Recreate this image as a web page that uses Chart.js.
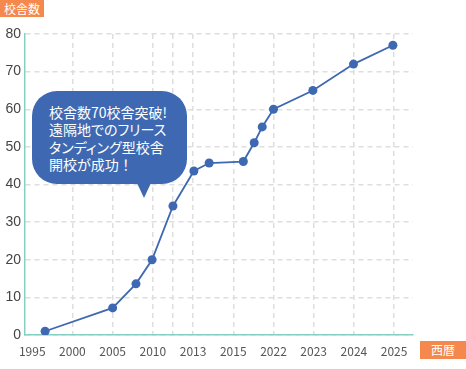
<!DOCTYPE html>
<html lang="ja">
<head>
<meta charset="utf-8">
<script src="https://cdn.jsdelivr.net/npm/chart.js@4/dist/chart.umd.min.js"></script>
<style>
    html, body { margin: 0; padding: 0; background: #fff; }
    .wrap { position: relative; width: 466px; height: 369px; overflow: hidden; font-family: "Noto Sans CJK JP", "Noto Sans", sans-serif; }
    canvas { position: absolute; left: 0; top: 0; }
    .badge { position: absolute; background: #f5884c; color: #fff; font-size: 12px; line-height: 17px; text-align: center; }
    .badge.y { left: 0; top: 0; width: 44px; height: 17px; }
    .badge.x { left: 420px; top: 341px; width: 46px; height: 18px; line-height: 18px; }
    .bubble {
        position: absolute; left: 32px; top: 91px; width: 155px; height: 93px;
        box-sizing: border-box; padding: 13px 0 0 17px;
        background: #3e69b2; border-radius: 25px;
        color: #fff; font-size: 14px; line-height: 17.4px; white-space: nowrap;
        font-feature-settings: "palt";
    }
    .bubble .fw { font-feature-settings: normal; }
    .bubble::after {
        content: ''; position: absolute; left: 105px; top: 92px;
        border-left: 7.5px solid transparent; border-right: 7.5px solid transparent;
        border-top: 15px solid #3e69b2;
    }
</style>
</head>
<body>
<div class="wrap">
    <canvas id="schoolChart" width="466" height="369"></canvas>
    <div class="badge y">校舎数</div>
    <div class="badge x">西暦</div>
    <div class="bubble">校舎数70校舎突破!<br>遠隔地でのフリース<br>タンディング型校舎<br>開校が成功<span class="fw">！</span></div>
</div>
<script>
// x tick labels (one per grid step) and the data, x given in tick-step units
const yearLabels = ['1995', '2000', '2005', '2010', '2013', '2015', '2022', '2023', '2024', '2025'];
const pointX = [0.32, 2.0, 2.58, 2.98, 3.5, 4.02, 4.4, 5.25, 5.52, 5.72, 6.0, 6.98, 7.99, 8.97];
const schoolCount = [1, 7.2, 13.6, 20, 34.3, 43.6, 45.7, 46.1, 51.1, 55.3, 60, 65, 72, 77];
const extraGridAt = [3.5];

document.addEventListener('DOMContentLoaded', () => {
    const lineColor = '#3e68b1';
    const axisColor = '#84d1c4';
    const gridColor = '#dedede';

    const ctx = document.getElementById('schoolChart').getContext('2d');
    new Chart(ctx, {
        type: 'line',
        data: {
            datasets: [{
                data: pointX.map((x, i) => ({ x, y: schoolCount[i] })),
                borderColor: lineColor,
                backgroundColor: lineColor,
                borderWidth: 1.8,
                pointRadius: 4.5,
                pointBorderWidth: 0,
                tension: 0
            }]
        },
        options: {
            responsive: false,
            animation: false,
            layout: { padding: { top: 34, right: 53, left: 0, bottom: 0 } },
            plugins: { legend: { display: false }, tooltip: { enabled: false } },
            scales: {
                x: {
                    type: 'linear',
                    min: -0.18,
                    max: 9.47,
                    afterBuildTicks: (axis) => {
                        const vals = yearLabels.map((_, i) => i).concat(extraGridAt).sort((a, b) => a - b);
                        axis.ticks = vals.map(v => ({ value: v }));
                    },
                    afterFit: (axis) => { axis.height = 34; },
                    ticks: {
                        autoSkip: false,
                        maxRotation: 0,
                        padding: 9,
                        color: '#555',
                        font: { family: '"Noto Sans CJK JP", sans-serif', size: 12 },
                        callback: (v) => Number.isInteger(v) ? yearLabels[v] : ''
                    },
                    grid: {
                        drawTicks: false,
                        lineWidth: 1.5,
                        color: (c) => (c.tick && c.tick.value === 0) ? 'rgba(0,0,0,0)' : gridColor
                    },
                    border: { color: axisColor, width: 1.5, dash: [5, 4] }
                },
                y: {
                    min: 0,
                    max: 80,
                    afterFit: (axis) => { axis.width = 25; },
                    ticks: {
                        stepSize: 10,
                        padding: 4,
                        color: '#444',
                        font: { family: '"Liberation Sans", Arial, sans-serif', size: 14 }
                    },
                    grid: { drawTicks: false, lineWidth: 1.5, color: gridColor },
                    border: { color: axisColor, width: 1.5, dash: [5, 4] }
                }
            }
        }
    });
});
</script>
</body>
</html>
